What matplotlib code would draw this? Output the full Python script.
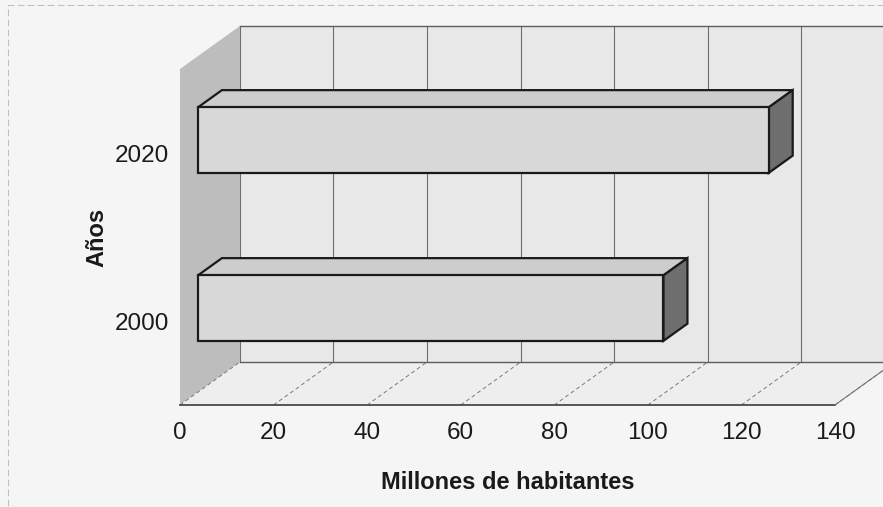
import matplotlib
matplotlib.use("Agg")
import matplotlib.pyplot as plt
from matplotlib.patches import Polygon, Rectangle

# data
years = ["2000", "2020"]
population = [99.5, 122]          # millones de habitantes
x_ticks = [0, 20, 40, 60, 80, 100, 120, 140]

# fake 3d look (Excel style): depth offset of the back wall, in data units
DX = 12.8
DY = 0.256
BAR_H = 0.39
BAR_Z0, BAR_Z1 = 0.3, 0.7   # bar sits in the middle of the depth

plt.rcParams['font.family'] = ['Liberation Sans', 'DejaVu Sans']

fig = plt.figure(figsize=(8.83, 5.07), dpi=100, facecolor="#f5f5f5")
ax = fig.add_axes([180 / 883, 102 / 507, 655 / 883, 336 / 507])
ax.set_xlim(0, 140)
ax.set_ylim(-0.5, 1.5)
ax.patch.set_visible(False)
for s in ax.spines.values():
    s.set_visible(False)

y0, y1 = -0.5, 1.5
xmax = x_ticks[-1]


def poly(pts, fc, ec="none", lw=0.0, z=1):
    p = Polygon(pts, closed=True, facecolor=fc, edgecolor=ec, linewidth=lw,
                clip_on=False, zorder=z)
    ax.add_patch(p)


# back wall
poly([(DX, y0 + DY), (xmax + DX + 10, y0 + DY), (xmax + DX + 10, y1 + DY), (DX, y1 + DY)],
     "#e8e8e8", z=1)
# left wall
poly([(0, y0), (DX, y0 + DY), (DX, y1 + DY), (0, y1)], "#bdbdbd", z=2)
# floor
poly([(0, y0), (xmax, y0), (xmax + DX, y0 + DY), (DX, y0 + DY)], "#eeeeee", z=2)

# grid lines on the back wall and dashed ones on the floor
for v in x_ticks:
    ax.plot([v + DX, v + DX], [y0 + DY, y1 + DY], color="#6e6e6e", lw=0.8,
            clip_on=False, zorder=3)
    ax.plot([v, v + DX], [y0, y0 + DY], color="#7a7a7a", lw=0.7, ls=(0, (4, 3)),
            clip_on=False, zorder=3)
ax.plot([DX, xmax + DX + 10], [y1 + DY, y1 + DY], color="#5e5e5e", lw=1.0,
        clip_on=False, zorder=3)
ax.plot([DX, xmax + DX + 10], [y0 + DY, y0 + DY], color="#5e5e5e", lw=1.0,
        clip_on=False, zorder=3)
ax.plot([0, xmax], [y0, y0], color="#4a4a4a", lw=1.3, clip_on=False, zorder=3)
ax.plot([xmax, xmax + DX], [y0, y0 + DY], color="#777777", lw=0.8, clip_on=False, zorder=3)

# 3d bars
dz = BAR_Z1 - BAR_Z0
for i, v in enumerate(population):
    xa = BAR_Z0 * DX
    xb = v + BAR_Z0 * DX
    ya = i - BAR_H / 2 + BAR_Z0 * DY
    yb = i + BAR_H / 2 + BAR_Z0 * DY
    ox, oy = dz * DX, dz * DY
    # top
    poly([(xa, yb), (xb, yb), (xb + ox, yb + oy), (xa + ox, yb + oy)],
         "#cdcdcd", ec="#1a1a1a", lw=1.6, z=5)
    # right side
    poly([(xb, ya), (xb + ox, ya + oy), (xb + ox, yb + oy), (xb, yb)],
         "#6e6e6e", ec="#1a1a1a", lw=1.6, z=5)
    # front
    ax.add_patch(Rectangle((xa, ya), v, BAR_H, facecolor="#d8d8d8",
                           edgecolor="#1a1a1a", lw=1.6, clip_on=False, zorder=6))

ax.set_xticks(x_ticks)
ax.set_xticklabels([str(t) for t in x_ticks])
ax.set_yticks(range(len(years)))
ax.set_yticklabels(years)
ax.tick_params(axis="both", length=0, labelsize=17.5, colors="#1a1a1a")
ax.tick_params(axis="x", pad=12)
ax.tick_params(axis="y", pad=8)

ax.set_xlabel("Millones de habitantes", fontsize=17, fontweight="bold", color="#1a1a1a")
ax.xaxis.set_label_coords(0.5, -0.195)
ax.set_ylabel("Años", fontsize=17, fontweight="bold", color="#1a1a1a")
ax.yaxis.set_label_coords(-0.11, 0.5)

# light frame of the scanned chart area
fig.add_artist(Rectangle((8 / 883, 0.0), 1.0, 1 - 5 / 507, transform=fig.transFigure,
                         fill=False, edgecolor="#c0c0c0", lw=0.8, ls=(0, (6, 3))))

fig.savefig("out.png", dpi=100, facecolor=fig.get_facecolor())
